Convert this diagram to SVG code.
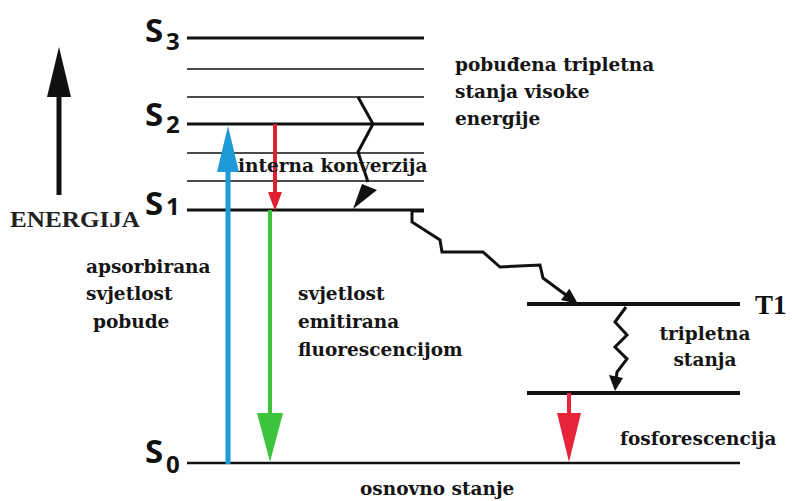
<svg xmlns="http://www.w3.org/2000/svg" width="792" height="501" viewBox="0 0 792 501">
<style>
.lbl{font-family:"DejaVu Serif","Liberation Serif",serif;font-weight:bold;font-size:18.5px;fill:#151515}
.s{font-family:"Open Sans","DejaVu Sans",sans-serif;font-weight:700;font-size:33px;fill:#111}
.sub{font-family:"Open Sans","DejaVu Sans",sans-serif;font-weight:700;font-size:24px;fill:#111}
.thick{stroke:#111;stroke-width:3}
.thin{stroke:#111;stroke-width:1.5}
.zz{fill:none;stroke:#111;stroke-width:3;stroke-linejoin:miter}
</style>
<rect width="792" height="501" fill="#fff"/>
<g id="levels">
<line class="thick" x1="187" y1="38" x2="424" y2="38"/>
<line class="thin" x1="187" y1="69" x2="424" y2="69"/>
<line class="thin" x1="187" y1="97" x2="424" y2="97"/>
<line class="thick" x1="187" y1="124" x2="424" y2="124"/>
<line class="thin" x1="187" y1="153" x2="424" y2="153"/>
<line class="thin" x1="187" y1="181" x2="424" y2="181"/>
<line class="thick" x1="187" y1="210" x2="424" y2="210"/>
<line stroke="#111" stroke-width="2.5" x1="187" y1="463" x2="740" y2="463"/>
<line stroke="#111" stroke-width="4" x1="527" y1="304" x2="740" y2="304"/>
<line stroke="#111" stroke-width="4" x1="527" y1="393" x2="740" y2="393"/>
</g>
<g id="level-labels">
<text class="s" x="145" y="42">S</text><text class="sub" x="166" y="50">3</text>
<text class="s" x="145" y="126">S</text><text class="sub" x="166" y="133">2</text>
<text class="s" x="145" y="215">S</text><text class="sub" x="166" y="215">1</text>
<text class="s" x="145" y="463">S</text><text class="sub" x="166" y="473">0</text>
<text x="755" y="314" font-family="Liberation Serif,serif" font-weight="bold" font-size="27" fill="#111">T1</text>
</g>
<g id="energy-axis">
<line x1="59" y1="95" x2="59" y2="195" stroke="#111" stroke-width="5"/>
<polygon points="47,97 59,47 71,97" fill="#111"/>
<text x="10" y="227" font-family="Liberation Serif,serif" font-weight="bold" font-size="23" fill="#222" textLength="130" lengthAdjust="spacingAndGlyphs">ENERGIJA</text>
</g>
<g id="connectors">
<g id="absorption">
<line x1="228" y1="464" x2="228" y2="168" stroke="#1e9ad8" stroke-width="5"/>
<polygon points="217,172 228,126 239,172" fill="#1e9ad8"/>
</g>
<g id="ic-red">
<line x1="275" y1="124" x2="275" y2="196" stroke="#e02030" stroke-width="4"/>
<polygon points="268,192 275,211 282,192" fill="#e02030"/>
</g>
<g id="fluorescence">
<line x1="270" y1="210" x2="270" y2="416" stroke="#3dc43d" stroke-width="4"/>
<polygon points="257,413 270,462 283,413" fill="#3dc43d"/>
</g>
<g id="phosphorescence">
<line x1="569" y1="393" x2="569" y2="416" stroke="#e8243a" stroke-width="4"/>
<polygon points="557,413 569,462 581,413" fill="#e8243a"/>
</g>
<g id="ic-zigzag">
<polyline class="zz" points="358,97 373,124 358,152 368,182"/>
<polygon points="353,209 362,184 377,190" fill="#111"/>
</g>
<g id="isc-zigzag">
<polyline class="zz" points="424,211 412,211 412,222 440,240 442,252 483,252 500,267 540,265 543,278 566,295"/>
<polygon points="578,304 561,300 569.4,288.8" fill="#111"/>
</g>
<g id="triplet-zigzag">
<polyline class="zz" points="626,307 615,322 627,335 615,347 627,359 617,372 616,380"/>
<polygon points="615,391 609,375 623,378" fill="#111"/>
</g>
</g>
<g id="texts">
<text class="lbl" x="455" y="71">pobuđena tripletna</text>
<text class="lbl" x="455" y="98">stanja visoke</text>
<text class="lbl" x="455" y="125">energije</text>
<text class="lbl" x="238" y="172">interna konverzija</text>
<text class="lbl" x="86" y="273">apsorbirana</text>
<text class="lbl" x="86" y="300">svjetlost</text>
<text class="lbl" x="93" y="328">pobude</text>
<text class="lbl" x="298" y="300">svjetlost</text>
<text class="lbl" x="298" y="328">emitirana</text>
<text class="lbl" x="298" y="356">fluorescencijom</text>
<text class="lbl" x="705" y="340" text-anchor="middle">tripletna</text>
<text class="lbl" x="705" y="366" text-anchor="middle">stanja</text>
<text class="lbl" x="620" y="445">fosforescencija</text>
<text class="lbl" x="360" y="495">osnovno stanje</text>
</g>
</svg>
